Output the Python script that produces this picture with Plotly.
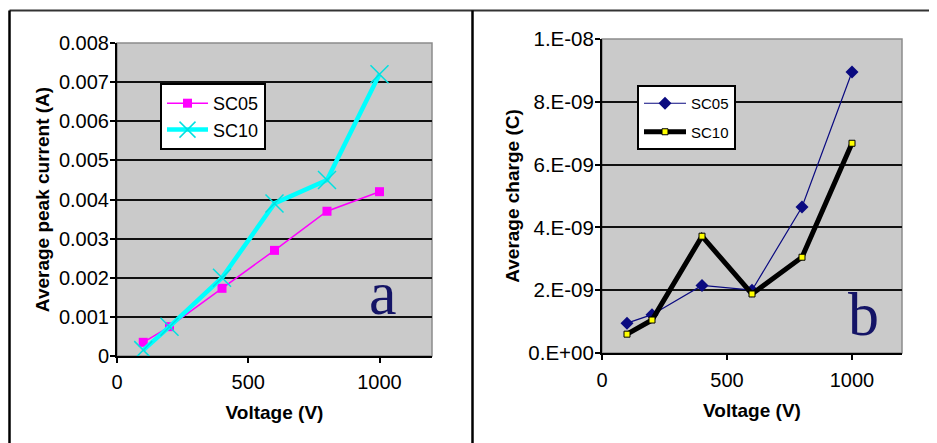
import plotly.graph_objects as go

# ---- data ----
voltage = [100, 200, 400, 600, 800, 1000]
current_sc05 = [0.00035, 0.00075, 0.00173, 0.0027, 0.0037, 0.0042]
current_sc10 = [0.00015, 0.00075, 0.0020, 0.0039, 0.0045, 0.0072]
charge_sc05 = [0.95e-9, 1.22e-9, 2.15e-9, 2.0e-9, 4.65e-9, 8.95e-9]
charge_sc10 = [0.6e-9, 1.05e-9, 3.72e-9, 1.88e-9, 3.05e-9, 6.68e-9]

x_ticks = [0, 500, 1000]
y1_ticks = [0, 0.001, 0.002, 0.003, 0.004, 0.005, 0.006, 0.007, 0.008]
y1_labels = ["0", "0.001", "0.002", "0.003", "0.004", "0.005", "0.006", "0.007", "0.008"]
y2_ticks = [0, 2e-9, 4e-9, 6e-9, 8e-9, 1e-8]
y2_labels = ["0.E+00", "2.E-09", "4.E-09", "6.E-09", "8.E-09", "1.E-08"]

OFF = 8  # page body margin
W, H = 937 - OFF, 443 - OFF
FONT = "Liberation Sans, Arial, sans-serif"
SERIF = "Liberation Serif, Times New Roman, serif"

fig = go.Figure()

fig.add_trace(go.Scatter(
    x=voltage, y=current_sc05, name="SC05", mode="lines+markers",
    line=dict(color="#ff00ff", width=1.5),
    marker=dict(symbol="square", size=9, color="#ff00ff"),
    xaxis="x", yaxis="y", legend="legend", legendgroup="a1"))
fig.add_trace(go.Scatter(
    x=voltage, y=current_sc10, name="SC10", mode="lines+markers",
    line=dict(color="#00ffff", width=4.5),
    marker=dict(symbol="x-thin-open", size=18, color="#00e0e0",
                line=dict(width=1.5, color="#00e0e0")),
    xaxis="x", yaxis="y", legend="legend", legendgroup="a2"))

fig.add_trace(go.Scatter(
    x=voltage, y=charge_sc05, name="SC05", mode="lines+markers",
    line=dict(color="#0a0a80", width=1.2),
    marker=dict(symbol="diamond", size=10, color="#0a0a80"),
    xaxis="x2", yaxis="y2", legend="legend2", legendgroup="b1"))
fig.add_trace(go.Scatter(
    x=voltage, y=charge_sc10, name="SC10", mode="lines+markers",
    line=dict(color="#000000", width=5),
    marker=dict(symbol="square", size=6, color="#ffff00",
                line=dict(width=1, color="#000000")),
    xaxis="x2", yaxis="y2", legend="legend2", legendgroup="b2"))

def px_x(p):
    return (p - OFF) / W

def px_y(p):
    return 1 - (p - OFF) / H

axis_common = dict(showline=True, linecolor="black", linewidth=2,
                   ticks="outside", ticklen=5, tickcolor="black", tickwidth=1.5,
                   zeroline=False, automargin=False)

fig.update_layout(
    template="none",
    width=W, height=H,
    margin=dict(l=0, r=0, t=0, b=0, autoexpand=False),
    paper_bgcolor="white",
    plot_bgcolor="#cacaca",
    font=dict(family=FONT, color="black"),
    xaxis=dict(domain=[px_x(117), px_x(432)], range=[0, 1200], tickvals=x_ticks,
               showgrid=False, anchor="y", ticklabelstandoff=2,
               tickfont=dict(family=FONT, size=20, color="black"),
               title=dict(text="<b>Voltage (V)</b>", font=dict(size=19), standoff=14),
               **axis_common),
    yaxis=dict(domain=[px_y(356), px_y(43)], range=[0, 0.008], tickvals=y1_ticks,
               ticktext=y1_labels, showgrid=True, gridcolor="#111111", gridwidth=2,
               anchor="x", ticklabelstandoff=-3,
               tickfont=dict(family=FONT, size=20, color="black"),
               title=dict(text="<b>Average peak current (A)</b>", font=dict(size=19), standoff=4),
               **axis_common),
    xaxis2=dict(domain=[px_x(602), px_x(902)], range=[0, 1200], tickvals=x_ticks,
                showgrid=False, anchor="y2", ticklabelstandoff=3,
                tickfont=dict(family=FONT, size=20, color="black"),
                title=dict(text="<b>Voltage (V)</b>", font=dict(size=19), standoff=14),
                **axis_common),
    yaxis2=dict(domain=[px_y(353), px_y(39)], range=[0, 1e-8], tickvals=y2_ticks,
                ticktext=y2_labels, showgrid=True, gridcolor="#111111", gridwidth=2,
                anchor="x2", ticklabelstandoff=-3,
                tickfont=dict(family=FONT, size=20.5, color="black"),
                title=dict(text="<b>Average charge (C)</b>", font=dict(size=19), standoff=4),
                **axis_common),
    legend=dict(x=px_x(160), y=px_y(83), xanchor="left", yanchor="top",
                bgcolor="white", bordercolor="black", borderwidth=2,
                font=dict(family=FONT, size=18, color="black"),
                itemwidth=41, tracegroupgap=0),
    legend2=dict(x=px_x(637), y=px_y(85), xanchor="left", yanchor="top",
                 bgcolor="white", bordercolor="black", borderwidth=2,
                 font=dict(family=FONT, size=15, color="black"),
                 itemwidth=42, tracegroupgap=6),
    showlegend=True,
)

# plot-area borders
for xr in ["x domain", "x2 domain"]:
    yr = "y domain" if xr == "x domain" else "y2 domain"
    fig.add_shape(type="rect", xref=xr, yref=yr, x0=0, x1=1, y0=0, y1=1,
                  line=dict(color="#8c8c8c", width=1.5), layer="below")

# outer frame
fig.add_shape(type="line", xref="paper", yref="paper", x0=px_x(9.5), x1=1,
              y0=px_y(10.5), y1=px_y(10.5), line=dict(color="#333333", width=2))
fig.add_shape(type="line", xref="paper", yref="paper", x0=px_x(9.5), x1=px_x(9.5),
              y0=0, y1=px_y(10.5), line=dict(color="black", width=2.5))
fig.add_shape(type="line", xref="paper", yref="paper", x0=px_x(472.5), x1=px_x(472.5),
              y0=0, y1=px_y(10.5), line=dict(color="black", width=2.5))

# panel letters
fig.add_annotation(text="a", xref="paper", yref="paper", x=px_x(383), y=px_y(293),
                   xanchor="center", yanchor="middle", showarrow=False,
                   font=dict(family=SERIF, size=62, color="#141466"))
fig.add_annotation(text="b", xref="paper", yref="paper", x=px_x(863), y=px_y(314),
                   xanchor="center", yanchor="middle", showarrow=False,
                   font=dict(family=SERIF, size=62, color="#141466"))

fig.write_html("out.html")
